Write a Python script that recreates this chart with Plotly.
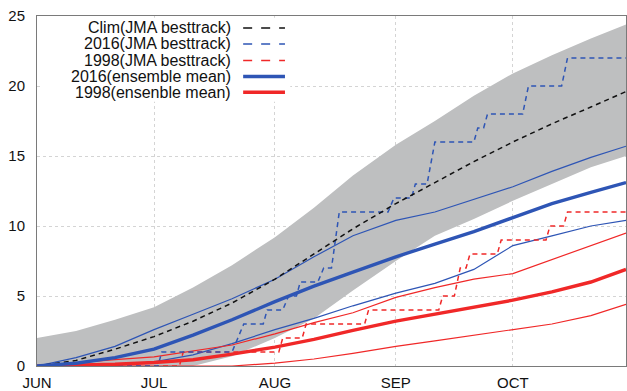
import plotly.graph_objects as go

# ---- data (day index from 1 June) ----
DAYS = [0, 10, 20, 30, 40, 50, 61, 71, 81, 92, 102, 112, 122, 132, 142, 151]

clim_upper = [2.0, 2.5, 3.3, 4.2, 5.6, 7.2, 9.2, 11.3, 13.6, 15.8, 17.5, 19.3, 20.9, 22.2, 23.4, 24.4]
clim_lower = [0.0, 0.0, 0.0, 0.0, 0.0, 0.7, 2.0, 3.4, 5.4, 7.5, 9.3, 10.5, 11.8, 13.0, 14.2, 15.0]
clim_mean = [0.0, 0.4, 1.2, 2.1, 3.2, 4.5, 6.2, 8.0, 9.8, 11.6, 13.1, 14.6, 16.0, 17.3, 18.5, 19.6]

ens2016_mean = [0.0, 0.2, 0.6, 1.2, 2.2, 3.3, 4.6, 5.7, 6.7, 7.8, 8.7, 9.6, 10.6, 11.6, 12.4, 13.1]
ens2016_upper = [0.0, 0.6, 1.4, 2.6, 3.7, 4.8, 6.2, 7.8, 9.3, 10.4, 11.0, 11.9, 12.8, 13.9, 14.9, 15.7]
ens2016_lower = [0.0, 0.0, 0.05, 0.3, 0.8, 1.6, 2.6, 3.4, 4.3, 5.2, 5.9, 6.9, 8.6, 9.3, 10.0, 10.4]

ens1998_mean = [0.0, 0.05, 0.12, 0.25, 0.45, 0.85, 1.35, 1.9, 2.55, 3.2, 3.7, 4.2, 4.7, 5.3, 6.0, 6.9]
ens1998_upper = [0.0, 0.25, 0.45, 0.65, 1.1, 1.5, 2.3, 3.1, 3.8, 4.9, 5.6, 6.2, 6.6, 7.6, 8.6, 9.5]
ens1998_lower = [0.0, 0.0, 0.0, 0.0, 0.0, 0.0, 0.2, 0.5, 0.9, 1.4, 1.8, 2.2, 2.6, 3.0, 3.6, 4.4]

bt2016_day = [0, 31, 32, 50, 53, 58, 59, 63, 64.5, 66.5, 67.5, 72, 73.5, 75.5, 77.5,
              90, 91.5, 96, 97, 100, 102, 112, 113, 114.5, 115.5, 124.5, 126, 134.5, 136, 151]
bt2016_count = [0, 0, 1, 1, 3, 3, 4, 4, 5, 5, 6, 6, 7, 7, 11,
                11, 12, 12, 13, 13, 16, 16, 17, 17, 18, 18, 20, 20, 22, 22]

bt1998_day = [0, 36.5, 37.5, 62, 63, 68, 69, 84, 85, 103, 104, 107, 108.5, 110, 111,
              118, 119, 130.5, 131.5, 135, 136, 151]
bt1998_count = [0, 0, 1, 1, 2, 2, 3, 3, 4, 4, 5, 5, 7, 7, 8,
                8, 9, 9, 10, 10, 11, 11]

month_ticks = [0, 30, 61, 92, 122]
month_labels = ["JUN", "JUL", "AUG", "SEP", "OCT"]

legend_names = ["Clim(JMA besttrack)", "2016(JMA besttrack)", "1998(JMA besttrack)",
                "2016(ensemble mean)", "1998(ensenble mean)"]

BLUE = "#2e55b5"
RED = "#f02828"
BLACK = "#111111"
GREY = "#bebfc0"
DASH = "5px,4px"

fig = go.Figure()
fig.add_trace(go.Scatter(x=DAYS, y=clim_lower, mode="lines", line=dict(width=0, color=GREY),
                         hoverinfo="skip", showlegend=False))
fig.add_trace(go.Scatter(x=DAYS, y=clim_upper, mode="lines", line=dict(width=0, color=GREY),
                         fill="tonexty", fillcolor=GREY, showlegend=False))

for ys, col in [(ens2016_upper, BLUE), (ens2016_lower, BLUE), (ens1998_upper, RED), (ens1998_lower, RED)]:
    fig.add_trace(go.Scatter(x=DAYS, y=ys, mode="lines", line=dict(color=col, width=1.2), showlegend=False))

fig.add_trace(go.Scatter(x=bt1998_day, y=bt1998_count, mode="lines",
                         line=dict(color=RED, width=1.5, dash=DASH), showlegend=False))
fig.add_trace(go.Scatter(x=bt2016_day, y=bt2016_count, mode="lines",
                         line=dict(color=BLUE, width=1.5, dash=DASH), showlegend=False))
fig.add_trace(go.Scatter(x=DAYS, y=clim_mean, mode="lines",
                         line=dict(color=BLACK, width=1.5, dash=DASH), showlegend=False))
fig.add_trace(go.Scatter(x=DAYS, y=ens1998_mean, mode="lines", line=dict(color=RED, width=3.4), showlegend=False))
fig.add_trace(go.Scatter(x=DAYS, y=ens2016_mean, mode="lines", line=dict(color=BLUE, width=3.4), showlegend=False))

# ---- manual legend (text right-aligned, sample line on the right) ----
shapes = [dict(type="rect", xref="paper", yref="paper", x0=0.01, x1=0.43, y0=0.755, y1=0.995,
               fillcolor="white", line=dict(width=0), layer="above")]
annotations = []
styles = [(BLACK, 1.5, "dash"), (BLUE, 1.5, "dash"), (RED, 1.5, "dash"), (BLUE, 3.4, "solid"), (RED, 3.4, "solid")]
rows = [0.966, 0.920, 0.873, 0.827, 0.782]
for name, (col, w, d), yy in zip(legend_names, styles, rows):
    annotations.append(dict(xref="paper", yref="paper", x=0.333, y=yy, xanchor="right", yanchor="middle",
                            text=name, showarrow=False, font=dict(size=16, color="#111111")))
    shapes.append(dict(type="line", xref="paper", yref="paper", x0=0.350, x1=0.421, y0=yy, y1=yy,
                       line=dict(color=col, width=w, dash=d), layer="above"))

fig.update_layout(
    width=627, height=391,
    margin=dict(l=37, r=1, t=16, b=25),
    paper_bgcolor="white", plot_bgcolor="white",
    font=dict(family="Liberation Sans, Arial, sans-serif", size=15, color="#111111"),
    showlegend=False,
    shapes=shapes, annotations=annotations,
    xaxis=dict(range=[0, 151], tickvals=month_ticks, ticktext=month_labels,
               showgrid=True, gridcolor="#d4d4d4", griddash="dot", gridwidth=1,
               showline=True, mirror=True, linecolor="#7a7a7a", linewidth=1,
               ticks="", zeroline=False, ticklabelstandoff=3),
    yaxis=dict(range=[0, 25], tickvals=[0, 5, 10, 15, 20, 25],
               showgrid=True, gridcolor="#d4d4d4", griddash="dot", gridwidth=1,
               showline=True, mirror=True, linecolor="#7a7a7a", linewidth=1,
               ticks="", zeroline=False, ticklabelstandoff=8),
)

fig.write_html("out.html")
